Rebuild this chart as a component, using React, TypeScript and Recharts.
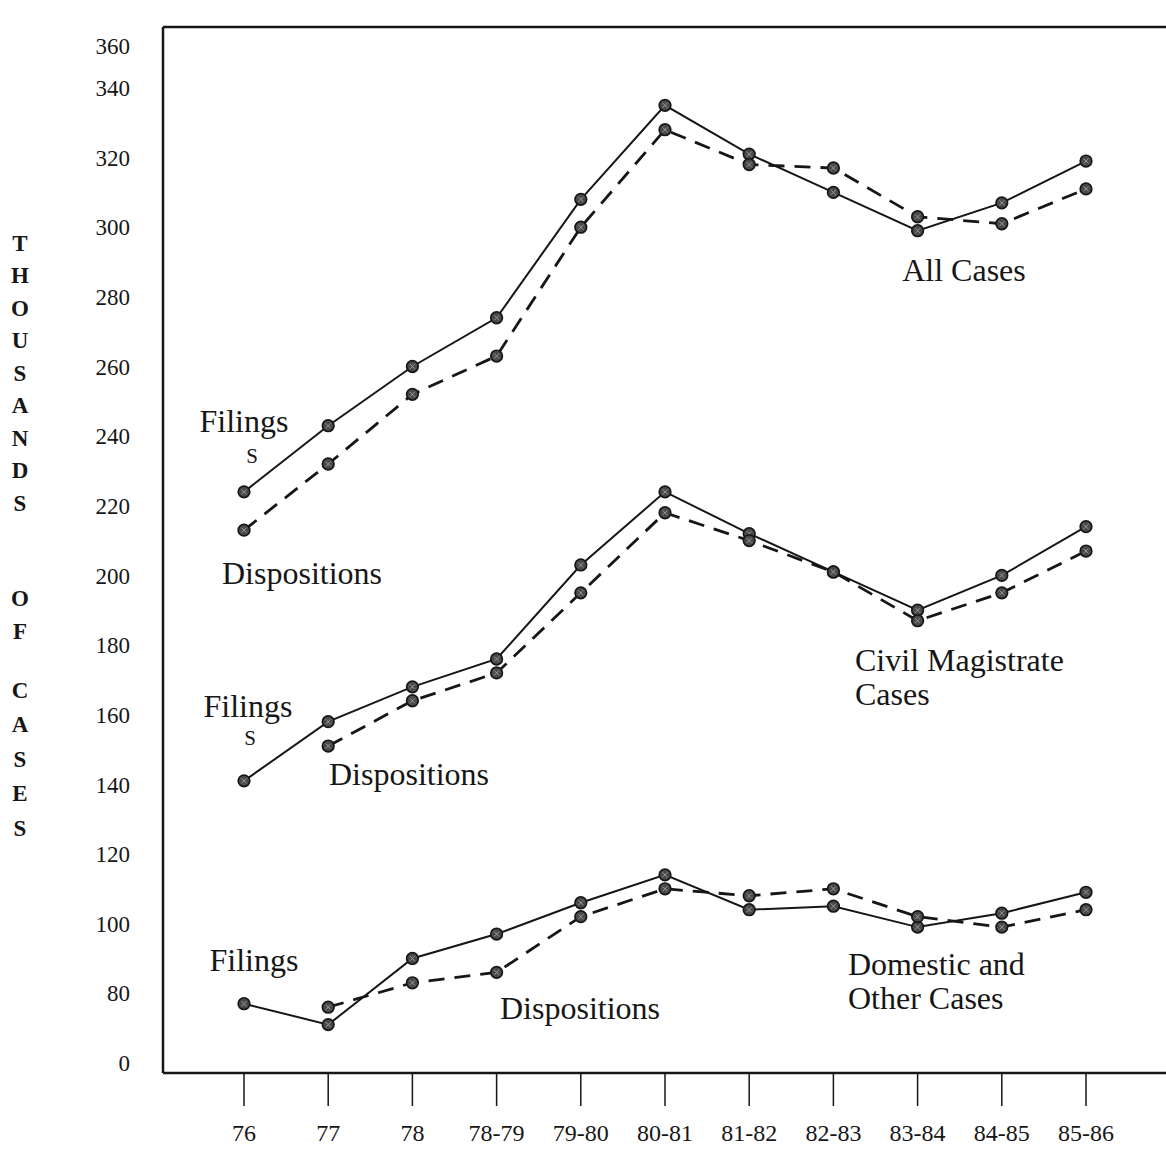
import React from 'react';
import { LineChart, Line, XAxis, YAxis, ReferenceLine } from 'recharts';

const years = ['76', '77', '78', '78-79', '79-80', '80-81', '81-82', '82-83', '83-84', '84-85', '85-86'];

// thousands of cases, read against the axis (the "0" label sits where 60 would be)
const allFilings = [224, 243, 260, 274, 308, 335, 321, 310, 299, 307, 319];
const allDispositions = [213, 232, 252, 263, 300, 328, 318, 317, 303, 301, 311];
const civilFilings = [141, 158, 168, 176, 203, 224, 212, 201, 190, 200, 214];
const civilDispositions = [null, 151, 164, 172, 195, 218, 210, 201, 187, 195, 207];
const domesticFilings = [77, 71, 90, 97, 106, 114, 104, 105, 99, 103, 109];
const domesticDispositions = [null, 76, 83, 86, 102, 110, 108, 110, 102, 99, 104];

const yTicks = [60, 80, 100, 120, 140, 160, 180, 200, 220, 240, 260, 280, 300, 320, 340, 352];
const yTickLabel = (v: number) => (v === 60 ? '0' : v === 352 ? '360' : String(v));

const Y_MIN = 57.1;
const Y_MAX = 357.5;

const rows = years.map((year, i) => ({
  year,
  allFilings: allFilings[i],
  allDispositions: allDispositions[i],
  civilFilings: civilFilings[i],
  civilDispositions: civilDispositions[i],
  domesticFilings: domesticFilings[i],
  domesticDispositions: domesticDispositions[i],
}));

// text written on the plot
const notes = [
  { text: 'Filings', x: 244, y: 421, size: 32, anchor: 'middle' },
  { text: 'S', x: 252, y: 456, size: 21, anchor: 'middle' },
  { text: 'Dispositions', x: 302, y: 573, size: 32, anchor: 'middle' },
  { text: 'All Cases', x: 964, y: 270, size: 32, anchor: 'middle' },
  { text: 'Filings', x: 248, y: 706, size: 32, anchor: 'middle' },
  { text: 'S', x: 250, y: 738, size: 21, anchor: 'middle' },
  { text: 'Dispositions', x: 409, y: 774, size: 32, anchor: 'middle' },
  { text: 'Civil Magistrate', x: 855, y: 660, size: 32, anchor: 'start' },
  { text: 'Cases', x: 855, y: 694, size: 32, anchor: 'start' },
  { text: 'Filings', x: 254, y: 960, size: 32, anchor: 'middle' },
  { text: 'Dispositions', x: 580, y: 1008, size: 32, anchor: 'middle' },
  { text: 'Domestic and', x: 848, y: 964, size: 32, anchor: 'start' },
  { text: 'Other Cases', x: 848, y: 998, size: 32, anchor: 'start' },
];

const titleWords = [
  { word: 'THOUSANDS', start: 243, step: 32.5 },
  { word: 'OF', start: 598, step: 33 },
  { word: 'CASES', start: 690, step: 34.5 },
];

const FONT = '"Liberation Serif", "Times New Roman", serif';
const INK = '#161616';

const Marker = (props: any) => {
  const { cx, cy } = props;
  if (cx == null || cy == null || props.value == null) return null;
  return (
    <g>
      <circle cx={cx} cy={cy} r={5.8} fill="#4a4a4a" stroke={INK} strokeWidth={1.7} />
      <path d={`M${cx - 2.5},${cy - 2.5}L${cx + 2.5},${cy + 2.5}M${cx + 2.5},${cy - 2.5}L${cx - 2.5},${cy + 2.5}`} stroke="#aaa" strokeWidth={0.8} />
    </g>
  );
};

const solid = { stroke: INK, strokeWidth: 2, dot: <Marker />, isAnimationActive: false, activeDot: false as const };
const dashed = { ...solid, strokeWidth: 2.8, strokeDasharray: '16 10' };

export default function App() {
  return (
    <div style={{ position: 'absolute', left: 0, top: 0, width: 1166, height: 1154, background: '#fff' }}>
      <LineChart width={1166} height={1154} data={rows} margin={{ top: 27, right: 0, bottom: 0, left: 0 }}>
        <XAxis
          dataKey="year"
          height={81}
          padding={{ left: 81, right: 80 }}
          tickSize={33}
          tickMargin={18}
          interval={0}
          axisLine={{ stroke: INK, strokeWidth: 2.5 }}
          tickLine={{ stroke: INK, strokeWidth: 1.5 }}
          tick={{ fill: INK, fontSize: 24, fontFamily: FONT }}
        />
        <YAxis
          type="number"
          width={163}
          domain={[Y_MIN, Y_MAX]}
          ticks={yTicks}
          tickFormatter={yTickLabel}
          interval={0}
          tickSize={0}
          tickMargin={33}
          tickLine={false}
          axisLine={{ stroke: INK, strokeWidth: 2.5 }}
          tick={{ fill: INK, fontSize: 23, fontFamily: FONT }}
        />
        <ReferenceLine y={Y_MAX} stroke={INK} strokeWidth={2.5} />
        <Line dataKey="allFilings" {...solid} />
        <Line dataKey="allDispositions" {...dashed} />
        <Line dataKey="civilFilings" {...solid} />
        <Line dataKey="civilDispositions" {...dashed} />
        <Line dataKey="domesticFilings" {...solid} />
        <Line dataKey="domesticDispositions" {...dashed} />
      </LineChart>
      <svg width={1166} height={1154} style={{ position: 'absolute', left: 0, top: 0, pointerEvents: 'none' }}>
        {notes.map((n, i) => (
          <text
            key={i}
            x={n.x}
            y={n.y}
            textAnchor={n.anchor as any}
            dominantBaseline="central"
            fontSize={n.size}
            fontFamily={FONT}
            fill={INK}
          >
            {n.text}
          </text>
        ))}
        {titleWords.map(w =>
          w.word.split('').map((ch, i) => (
            <text
              key={w.word + i}
              x={20}
              y={w.start + i * w.step}
              textAnchor="middle"
              dominantBaseline="central"
              fontSize={23}
              fontWeight="bold"
              fontFamily={FONT}
              fill={INK}
            >
              {ch}
            </text>
          ))
        )}
      </svg>
    </div>
  );
}
